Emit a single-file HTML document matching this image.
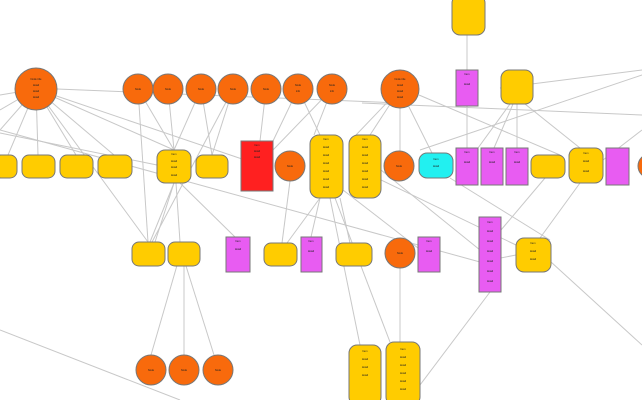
<!DOCTYPE html>
<html><head><meta charset="utf-8"><style>
html,body{margin:0;padding:0;background:#fff;width:642px;height:400px;overflow:hidden}
svg text{font-family:"Liberation Sans",sans-serif;font-size:2.6px;fill:#222}
</style></head><body>
<svg width="642" height="400" viewBox="0 0 642 400" xmlns="http://www.w3.org/2000/svg">
<g stroke="#c8c8c8" stroke-width="1" fill="none">
<line x1="36" y1="89" x2="0" y2="95"/><line x1="36" y1="89" x2="0" y2="110"/><line x1="36" y1="89" x2="0" y2="130"/>
<line x1="36" y1="89" x2="8" y2="155"/><line x1="36" y1="89" x2="38" y2="155"/><line x1="36" y1="89" x2="76" y2="155"/>
<line x1="36" y1="89" x2="114" y2="155"/><line x1="36" y1="89" x2="148" y2="242"/><line x1="36" y1="89" x2="174" y2="150"/>
<line x1="57" y1="89" x2="400" y2="103"/><line x1="36" y1="89" x2="245" y2="160"/>
<line x1="0" y1="133" x2="157" y2="165"/><line x1="0" y1="130" x2="480" y2="262"/><line x1="480" y1="262" x2="516" y2="255"/>
<line x1="0" y1="330" x2="180" y2="400"/>
<line x1="138" y1="89" x2="148" y2="242"/><line x1="138" y1="89" x2="174" y2="150"/>
<line x1="168" y1="89" x2="174" y2="150"/><line x1="201" y1="89" x2="174" y2="150"/><line x1="201" y1="89" x2="212" y2="155"/>
<line x1="233" y1="89" x2="212" y2="155"/><line x1="233" y1="89" x2="152" y2="242"/>
<line x1="266" y1="89" x2="260" y2="141"/><line x1="298" y1="89" x2="273" y2="141"/><line x1="332" y1="89" x2="273" y2="150"/>
<line x1="332" y1="89" x2="314" y2="135"/><line x1="298" y1="89" x2="320" y2="135"/>
<line x1="174" y1="183" x2="150" y2="242"/><line x1="174" y1="183" x2="155" y2="242"/><line x1="176" y1="183" x2="180" y2="242"/><line x1="180" y1="183" x2="235" y2="237"/>
<line x1="180" y1="255" x2="151" y2="355"/><line x1="184" y1="266" x2="184" y2="355"/><line x1="186" y1="266" x2="214" y2="355"/>
<line x1="290" y1="181" x2="282" y2="243"/><line x1="320" y1="198" x2="287" y2="243"/><line x1="320" y1="198" x2="311" y2="237"/>
<line x1="330" y1="198" x2="360" y2="345"/><line x1="335" y1="198" x2="390" y2="342"/><line x1="343" y1="190" x2="418" y2="248"/>
<line x1="340" y1="198" x2="350" y2="243"/><line x1="381" y1="170" x2="480" y2="250"/><line x1="381" y1="180" x2="516" y2="245"/>
<line x1="400" y1="89" x2="356" y2="135"/><line x1="400" y1="89" x2="370" y2="135"/><line x1="400" y1="89" x2="400" y2="151"/>
<line x1="400" y1="89" x2="432" y2="153"/><line x1="419" y1="95" x2="560" y2="155"/>
<line x1="362" y1="103" x2="642" y2="115"/><line x1="500" y1="88" x2="642" y2="70"/>
<line x1="467" y1="35" x2="467" y2="70"/><line x1="467" y1="106" x2="467" y2="148"/>
<line x1="510" y1="104" x2="478" y2="148"/><line x1="513" y1="104" x2="494" y2="148"/><line x1="517" y1="104" x2="517" y2="148"/><line x1="525" y1="104" x2="580" y2="148"/>
<line x1="420" y1="150" x2="642" y2="75"/><line x1="603" y1="160" x2="642" y2="130"/>
<line x1="545" y1="178" x2="501" y2="230"/><line x1="580" y1="183" x2="540" y2="238"/>
<line x1="400" y1="268" x2="400" y2="342"/><line x1="490" y1="292" x2="420" y2="385"/>
<line x1="551" y1="262" x2="642" y2="345"/><line x1="450" y1="178" x2="550" y2="240"/>
</g>
<g stroke="#777" stroke-width="1">
<g fill="#f86a0c">
<circle cx="36" cy="89" r="21"/><circle cx="138" cy="89" r="15"/><circle cx="168" cy="89" r="15"/><circle cx="201" cy="89" r="15"/>
<circle cx="233" cy="89" r="15"/><circle cx="266" cy="89" r="15"/><circle cx="298" cy="89" r="15"/><circle cx="332" cy="89" r="15"/>
<circle cx="400" cy="89" r="19"/><circle cx="290" cy="166" r="15"/><circle cx="399" cy="166" r="15"/><circle cx="400" cy="253" r="15"/>
<circle cx="151" cy="370" r="15"/><circle cx="184" cy="370" r="15"/><circle cx="218" cy="370" r="15"/>
</g>
<g fill="#ffcc00">
<rect x="-6" y="155" width="23" height="23" rx="7"/><rect x="22" y="155" width="33" height="23" rx="7"/><rect x="60" y="155" width="33" height="23" rx="7"/>
<rect x="98" y="155" width="34" height="23" rx="7"/><rect x="157" y="150" width="34" height="33" rx="8"/><rect x="196" y="155" width="32" height="23" rx="7"/>
<rect x="310" y="135" width="33" height="63" rx="9"/><rect x="349" y="135" width="32" height="63" rx="9"/>
<rect x="452" y="-5" width="33" height="40" rx="8"/><rect x="501" y="70" width="32" height="34" rx="8"/>
<rect x="531" y="155" width="34" height="23" rx="7"/><rect x="569" y="148" width="34" height="35" rx="8"/>
<rect x="132" y="242" width="33" height="24" rx="7"/><rect x="168" y="242" width="32" height="24" rx="7"/>
<rect x="264" y="243" width="33" height="23" rx="7"/><rect x="336" y="243" width="36" height="23" rx="7"/>
<rect x="516" y="238" width="35" height="34" rx="8"/><rect x="349" y="345" width="32" height="60" rx="8"/><rect x="386" y="342" width="34" height="63" rx="8"/>
</g>
<g fill="#e85cf2">
<rect x="456" y="70" width="22" height="36"/><rect x="456" y="148" width="22" height="37"/><rect x="481" y="148" width="22" height="37"/>
<rect x="506" y="148" width="22" height="37"/><rect x="606" y="148" width="23" height="37"/><rect x="226" y="237" width="24" height="35"/>
<rect x="301" y="237" width="21" height="35"/><rect x="418" y="237" width="22" height="35"/><rect x="479" y="217" width="22" height="75"/>
</g>
<rect x="241" y="141" width="32" height="50" fill="#ff2020"/>
<rect x="419" y="153" width="34" height="25" rx="8" fill="#22f0f0"/>
<circle cx="650" cy="166" r="12" fill="#f86a0c"/>
</g>
<g text-anchor="middle" stroke="none">
<text x="36" y="80">Node title</text><text x="36" y="86">detail</text><text x="36" y="92">detail</text><text x="36" y="98">detail</text>
<text x="138" y="90">Node</text><text x="168" y="90">Node</text><text x="201" y="90">Node</text>
<text x="233" y="90">Node</text><text x="266" y="90">Node</text><text x="298" y="86">Node</text><text x="298" y="92">info</text><text x="332" y="86">Node</text><text x="332" y="92">info</text>
<text x="400" y="80">Node title</text><text x="400" y="86">detail</text><text x="400" y="92">detail</text><text x="400" y="98">detail</text>
<text x="290" y="167">Node</text><text x="399" y="167">Node</text><text x="400" y="254">Node</text>
<text x="151" y="371">Node</text><text x="184" y="371">Node</text><text x="218" y="371">Node</text>
<text x="174" y="155">Item</text><text x="174" y="162">detail</text><text x="174" y="168">detail</text><text x="174" y="176">detail</text>
<text x="257" y="146">Item</text><text x="257" y="152">detail</text><text x="257" y="158">detail</text>
<text x="326" y="140">Item</text><text x="326" y="148">detail</text><text x="326" y="156">detail</text><text x="326" y="164">detail</text><text x="326" y="172">detail</text><text x="326" y="180">detail</text><text x="326" y="188">detail</text>
<text x="365" y="140">Item</text><text x="365" y="148">detail</text><text x="365" y="156">detail</text><text x="365" y="164">detail</text><text x="365" y="172">detail</text><text x="365" y="180">detail</text><text x="365" y="188">detail</text>
<text x="365" y="352">Item</text><text x="365" y="360">detail</text><text x="365" y="368">detail</text><text x="365" y="376">detail</text>
<text x="403" y="350">Item</text><text x="403" y="358">detail</text><text x="403" y="366">detail</text><text x="403" y="374">detail</text><text x="403" y="382">detail</text><text x="403" y="390">detail</text>
<text x="436" y="160">Item</text><text x="436" y="167">detail</text>
<text x="490" y="223">Item</text><text x="490" y="232">detail</text><text x="490" y="242">detail</text><text x="490" y="252">detail</text><text x="490" y="262">detail</text><text x="490" y="272">detail</text><text x="490" y="282">detail</text>
<text x="533" y="244">Item</text><text x="533" y="252">detail</text><text x="533" y="260">detail</text>
<text x="586" y="154">Item</text><text x="586" y="162">detail</text><text x="586" y="172">detail</text>
<text x="467" y="75">Item</text><text x="467" y="85">detail</text>
<text x="467" y="153">Item</text><text x="467" y="163">detail</text><text x="492" y="153">Item</text><text x="492" y="163">detail</text><text x="517" y="153">Item</text><text x="517" y="163">detail</text>
<text x="238" y="242">Item</text><text x="238" y="250">detail</text><text x="311" y="242">Item</text><text x="311" y="252">detail</text><text x="429" y="242">Item</text><text x="429" y="252">detail</text>
</g>
</svg>
</body></html>
